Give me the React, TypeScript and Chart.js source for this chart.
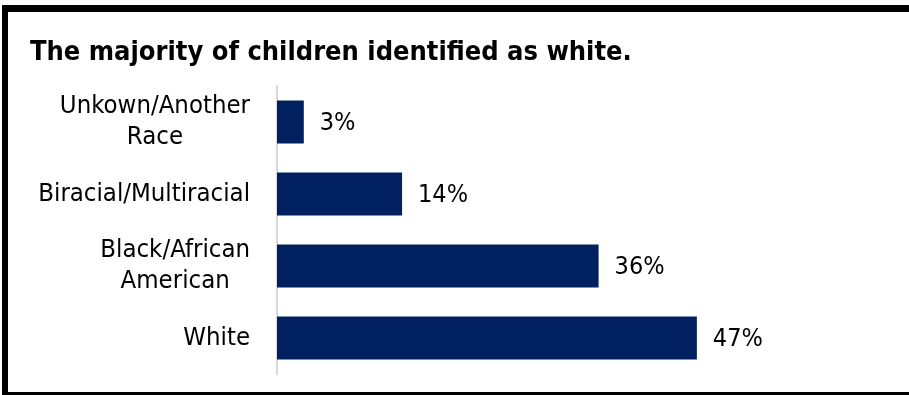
import React, { useEffect, useRef } from "react";
import { Chart, registerables } from "chart.js";

Chart.register(...registerables);

const titleText = "The majority of children identified as white.";
const categories: string[][] = [
  ["Unkown/Another", "Race"],
  ["Biracial/Multiracial"],
  ["Black/African", "American"],
  ["White"],
];
const values = [3, 14, 36, 47];
const valueLabels = ["3%", "14%", "36%", "47%"];

const FONT = "'DejaVu Sans Condensed', 'DejaVu Sans', sans-serif";
const LABEL_SIZE = 25.5;
const LINE_GAP = 31;

export default function App() {
  const ref = useRef<HTMLCanvasElement>(null);

  useEffect(() => {
    const labelPlugin = {
      id: "valueLabels",
      afterDatasetsDraw(chart: any) {
        const ctx = chart.ctx;
        const meta = chart.getDatasetMeta(0);
        ctx.save();
        ctx.font = `${LABEL_SIZE - 0.5}px ${FONT}`;
        ctx.fillStyle = "#000000";
        ctx.textBaseline = "middle";
        ctx.textAlign = "left";
        meta.data.forEach((el: any, i: number) => {
          ctx.fillText(valueLabels[i], el.x + 16, el.y + 1);
        });
        ctx.restore();
      },
    };

    const categoryLabelPlugin = {
      id: "categoryLabels",
      afterDraw(chart: any) {
        const ctx = chart.ctx;
        const yScale = chart.scales.y;
        const right = chart.chartArea.left - 27;
        ctx.save();
        ctx.font = `${LABEL_SIZE}px ${FONT}`;
        ctx.fillStyle = "#000000";
        ctx.textBaseline = "middle";
        ctx.textAlign = "center";
        categories.forEach((lines, i) => {
          const cy = yScale.getPixelForValue(i);
          const w = Math.max(...lines.map((l) => ctx.measureText(l).width));
          const cx = right - w / 2;
          const top = cy - ((lines.length - 1) * LINE_GAP) / 2;
          lines.forEach((line, j) => {
            ctx.fillText(line, cx, top + j * LINE_GAP);
          });
        });
        ctx.restore();
      },
    };

    const chart = new Chart(ref.current as HTMLCanvasElement, {
      type: "bar",
      data: {
        labels: categories.map((c) => c.join(" ")),
        datasets: [
          {
            data: values,
            backgroundColor: "#002060",
            barPercentage: 0.6,
            categoryPercentage: 1,
          },
        ],
      },
      options: {
        indexAxis: "y",
        animation: false,
        responsive: false,
        maintainAspectRatio: false,
        layout: { padding: { top: 86, bottom: 21, left: 0, right: 96 } },
        plugins: {
          legend: { display: false },
          tooltip: { enabled: false },
          title: { display: false },
        },
        scales: {
          x: { display: false, min: 0, max: 60 },
          y: {
            afterFit: (s: any) => {
              s.width = 277;
              s.paddingTop = 0;
              s.paddingBottom = 0;
            },
            grid: { display: false, drawTicks: false },
            border: { display: true, color: "#d9d9d9", width: 2 },
            ticks: { display: false },
          },
        },
      },
      plugins: [labelPlugin, categoryLabelPlugin],
    });
    return () => chart.destroy();
  }, []);

  return (
    <div
      style={{
        position: "fixed",
        left: 0,
        top: 0,
        width: 909,
        height: 395,
        overflow: "hidden",
        background: "#ffffff",
      }}
    >
      <div
        style={{
          position: "absolute",
          left: 2,
          top: 5,
          width: 940,
          height: 394,
          borderTop: "7px solid #000",
          borderLeft: "6px solid #000",
          borderBottom: "7px solid #000",
          boxSizing: "border-box",
          background: "#ffffff",
        }}
      />
      <div
        style={{
          position: "absolute",
          left: 0,
          top: 0,
          width: 909,
          height: 395,
        }}
      >
        <canvas ref={ref} width={909} height={395} style={{ display: "block" }} />
      </div>
      <div
        style={{
          position: "absolute",
          left: 30,
          top: 37,
          fontFamily: FONT,
          fontWeight: "bold",
          fontSize: 27,
          lineHeight: "27px",
          color: "#000",
          whiteSpace: "nowrap",
        }}
      >
        {titleText}
      </div>
    </div>
  );
}
